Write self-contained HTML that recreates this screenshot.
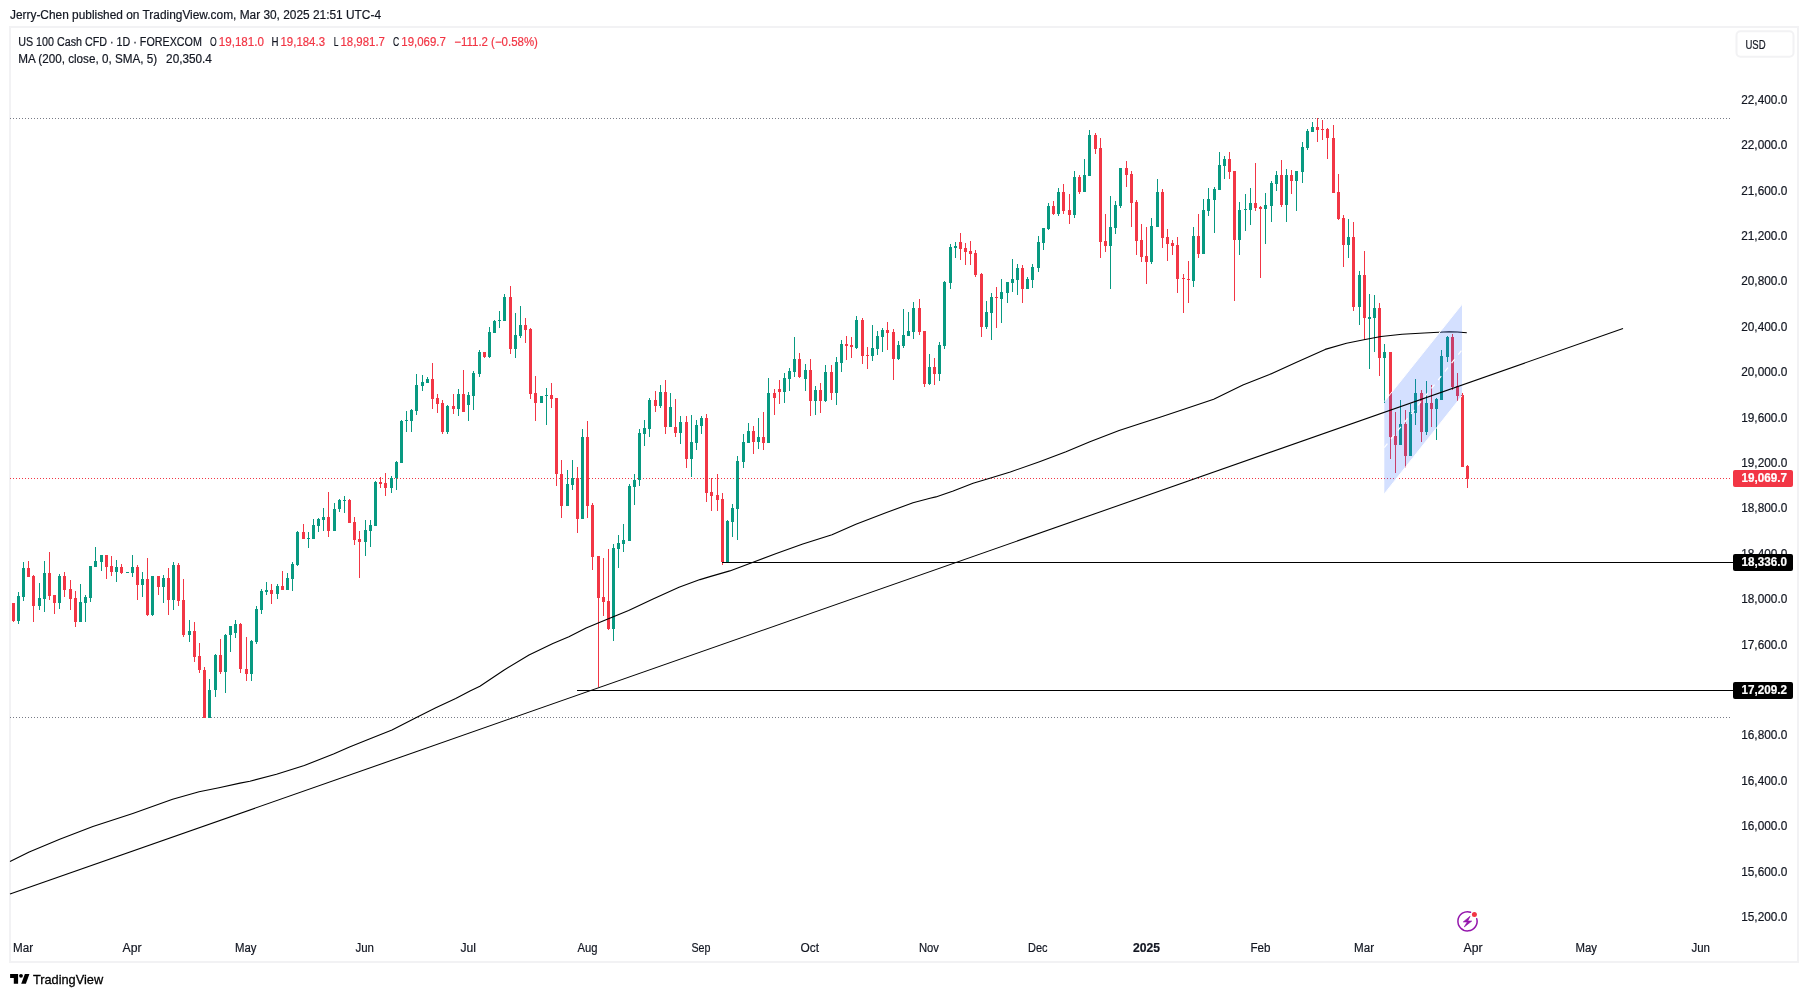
<!DOCTYPE html>
<html><head><meta charset="utf-8"><title>US 100 Cash CFD</title>
<style>
html,body{margin:0;padding:0;background:#fff;}
svg{display:block;font-family:"Liberation Sans",sans-serif;will-change:transform;-webkit-font-smoothing:antialiased;}
</style></head>
<body>
<svg width="1808" height="997" viewBox="0 0 1808 997">
<rect x="0" y="0" width="1808" height="997" fill="#ffffff"/>
<rect x="10" y="27" width="1788" height="935" fill="none" stroke="#f2f2f4" stroke-width="2"/>
<rect x="1736.5" y="31.3" width="57" height="25.4" rx="4" fill="#fff" stroke="#f2f2f4" stroke-width="2"/>
<g shape-rendering="crispEdges">
<line x1="10" y1="118.5" x2="1730" y2="118.5" stroke="#787b86" stroke-width="1" stroke-dasharray="1 2"/>
<line x1="10" y1="717.5" x2="1730" y2="717.5" stroke="#787b86" stroke-width="1" stroke-dasharray="1 2"/>
<line x1="10" y1="478.5" x2="1730" y2="478.5" stroke="#f23645" stroke-width="1" stroke-dasharray="1 2"/>
</g>
<g shape-rendering="crispEdges">
<rect x="13" y="603" width="1" height="19" fill="#f23645"/>
<rect x="12" y="603" width="3" height="18" fill="#f23645"/>
<rect x="18" y="592" width="1" height="32" fill="#089981"/>
<rect x="17" y="596" width="3" height="25" fill="#089981"/>
<rect x="23" y="562" width="1" height="39" fill="#089981"/>
<rect x="22" y="568" width="3" height="29" fill="#089981"/>
<rect x="28" y="561" width="1" height="16" fill="#f23645"/>
<rect x="27" y="568" width="3" height="9" fill="#f23645"/>
<rect x="33" y="575" width="1" height="47" fill="#f23645"/>
<rect x="32" y="576" width="3" height="30" fill="#f23645"/>
<rect x="39" y="583" width="1" height="27" fill="#089981"/>
<rect x="38" y="598" width="3" height="8" fill="#089981"/>
<rect x="44" y="561" width="1" height="51" fill="#089981"/>
<rect x="43" y="573" width="3" height="26" fill="#089981"/>
<rect x="49" y="552" width="1" height="48" fill="#f23645"/>
<rect x="48" y="573" width="3" height="23" fill="#f23645"/>
<rect x="54" y="595" width="1" height="19" fill="#f23645"/>
<rect x="53" y="595" width="3" height="8" fill="#f23645"/>
<rect x="59" y="574" width="1" height="35" fill="#089981"/>
<rect x="58" y="576" width="3" height="27" fill="#089981"/>
<rect x="64" y="572" width="1" height="25" fill="#f23645"/>
<rect x="63" y="576" width="3" height="14" fill="#f23645"/>
<rect x="70" y="580" width="1" height="30" fill="#f23645"/>
<rect x="69" y="589" width="3" height="10" fill="#f23645"/>
<rect x="75" y="591" width="1" height="36" fill="#f23645"/>
<rect x="74" y="598" width="3" height="24" fill="#f23645"/>
<rect x="80" y="584" width="1" height="38" fill="#089981"/>
<rect x="79" y="602" width="3" height="20" fill="#089981"/>
<rect x="85" y="595" width="1" height="27" fill="#089981"/>
<rect x="84" y="597" width="3" height="6" fill="#089981"/>
<rect x="90" y="566" width="1" height="36" fill="#089981"/>
<rect x="89" y="566" width="3" height="32" fill="#089981"/>
<rect x="95" y="547" width="1" height="20" fill="#089981"/>
<rect x="94" y="561" width="3" height="6" fill="#089981"/>
<rect x="101" y="555" width="1" height="16" fill="#089981"/>
<rect x="100" y="555" width="3" height="7" fill="#089981"/>
<rect x="106" y="555" width="1" height="24" fill="#f23645"/>
<rect x="105" y="555" width="3" height="12" fill="#f23645"/>
<rect x="111" y="556" width="1" height="20" fill="#f23645"/>
<rect x="110" y="566" width="3" height="6" fill="#f23645"/>
<rect x="116" y="560" width="1" height="22" fill="#089981"/>
<rect x="115" y="567" width="3" height="5" fill="#089981"/>
<rect x="121" y="564" width="1" height="10" fill="#f23645"/>
<rect x="120" y="567" width="3" height="6" fill="#f23645"/>
<rect x="127" y="572" width="1" height="1" fill="#089981"/>
<rect x="126" y="572" width="3" height="1" fill="#089981"/>
<rect x="132" y="555" width="1" height="22" fill="#089981"/>
<rect x="131" y="567" width="3" height="6" fill="#089981"/>
<rect x="137" y="565" width="1" height="35" fill="#f23645"/>
<rect x="136" y="567" width="3" height="18" fill="#f23645"/>
<rect x="142" y="572" width="1" height="25" fill="#089981"/>
<rect x="141" y="579" width="3" height="6" fill="#089981"/>
<rect x="147" y="558" width="1" height="58" fill="#f23645"/>
<rect x="146" y="579" width="3" height="36" fill="#f23645"/>
<rect x="152" y="576" width="1" height="40" fill="#089981"/>
<rect x="151" y="576" width="3" height="39" fill="#089981"/>
<rect x="158" y="576" width="1" height="19" fill="#f23645"/>
<rect x="157" y="576" width="3" height="11" fill="#f23645"/>
<rect x="163" y="575" width="1" height="28" fill="#089981"/>
<rect x="162" y="578" width="3" height="9" fill="#089981"/>
<rect x="168" y="568" width="1" height="47" fill="#f23645"/>
<rect x="167" y="578" width="3" height="22" fill="#f23645"/>
<rect x="173" y="562" width="1" height="48" fill="#089981"/>
<rect x="172" y="565" width="3" height="35" fill="#089981"/>
<rect x="178" y="563" width="1" height="43" fill="#f23645"/>
<rect x="177" y="565" width="3" height="36" fill="#f23645"/>
<rect x="183" y="579" width="1" height="58" fill="#f23645"/>
<rect x="182" y="600" width="3" height="35" fill="#f23645"/>
<rect x="189" y="620" width="1" height="22" fill="#089981"/>
<rect x="188" y="631" width="3" height="4" fill="#089981"/>
<rect x="194" y="622" width="1" height="40" fill="#f23645"/>
<rect x="193" y="631" width="3" height="26" fill="#f23645"/>
<rect x="199" y="643" width="1" height="30" fill="#f23645"/>
<rect x="198" y="656" width="3" height="14" fill="#f23645"/>
<rect x="204" y="667" width="1" height="51" fill="#f23645"/>
<rect x="203" y="670" width="3" height="48" fill="#f23645"/>
<rect x="209" y="679" width="1" height="39" fill="#089981"/>
<rect x="208" y="690" width="3" height="28" fill="#089981"/>
<rect x="215" y="654" width="1" height="43" fill="#089981"/>
<rect x="214" y="655" width="3" height="35" fill="#089981"/>
<rect x="220" y="639" width="1" height="35" fill="#f23645"/>
<rect x="219" y="655" width="3" height="17" fill="#f23645"/>
<rect x="225" y="634" width="1" height="59" fill="#089981"/>
<rect x="224" y="635" width="3" height="37" fill="#089981"/>
<rect x="230" y="626" width="1" height="26" fill="#089981"/>
<rect x="229" y="626" width="3" height="9" fill="#089981"/>
<rect x="235" y="620" width="1" height="18" fill="#089981"/>
<rect x="234" y="624" width="3" height="9" fill="#089981"/>
<rect x="240" y="623" width="1" height="50" fill="#f23645"/>
<rect x="239" y="624" width="3" height="45" fill="#f23645"/>
<rect x="246" y="637" width="1" height="44" fill="#f23645"/>
<rect x="245" y="669" width="3" height="5" fill="#f23645"/>
<rect x="251" y="640" width="1" height="41" fill="#089981"/>
<rect x="250" y="641" width="3" height="33" fill="#089981"/>
<rect x="256" y="606" width="1" height="38" fill="#089981"/>
<rect x="255" y="609" width="3" height="33" fill="#089981"/>
<rect x="261" y="589" width="1" height="25" fill="#089981"/>
<rect x="260" y="591" width="3" height="19" fill="#089981"/>
<rect x="266" y="582" width="1" height="13" fill="#089981"/>
<rect x="265" y="590" width="3" height="2" fill="#089981"/>
<rect x="271" y="584" width="1" height="20" fill="#f23645"/>
<rect x="270" y="590" width="3" height="4" fill="#f23645"/>
<rect x="277" y="584" width="1" height="15" fill="#089981"/>
<rect x="276" y="586" width="3" height="8" fill="#089981"/>
<rect x="282" y="571" width="1" height="19" fill="#f23645"/>
<rect x="281" y="586" width="3" height="4" fill="#f23645"/>
<rect x="287" y="573" width="1" height="17" fill="#089981"/>
<rect x="286" y="578" width="3" height="12" fill="#089981"/>
<rect x="292" y="562" width="1" height="29" fill="#089981"/>
<rect x="291" y="564" width="3" height="15" fill="#089981"/>
<rect x="297" y="531" width="1" height="35" fill="#089981"/>
<rect x="296" y="532" width="3" height="33" fill="#089981"/>
<rect x="303" y="524" width="1" height="15" fill="#f23645"/>
<rect x="302" y="532" width="3" height="7" fill="#f23645"/>
<rect x="308" y="532" width="1" height="16" fill="#089981"/>
<rect x="307" y="538" width="3" height="1" fill="#089981"/>
<rect x="313" y="519" width="1" height="20" fill="#089981"/>
<rect x="312" y="525" width="3" height="14" fill="#089981"/>
<rect x="318" y="518" width="1" height="14" fill="#089981"/>
<rect x="317" y="519" width="3" height="7" fill="#089981"/>
<rect x="323" y="508" width="1" height="23" fill="#089981"/>
<rect x="322" y="517" width="3" height="3" fill="#089981"/>
<rect x="328" y="492" width="1" height="45" fill="#f23645"/>
<rect x="327" y="517" width="3" height="14" fill="#f23645"/>
<rect x="334" y="503" width="1" height="28" fill="#089981"/>
<rect x="333" y="509" width="3" height="22" fill="#089981"/>
<rect x="339" y="499" width="1" height="13" fill="#089981"/>
<rect x="338" y="500" width="3" height="9" fill="#089981"/>
<rect x="344" y="496" width="1" height="17" fill="#089981"/>
<rect x="343" y="500" width="3" height="1" fill="#089981"/>
<rect x="349" y="499" width="1" height="24" fill="#f23645"/>
<rect x="348" y="500" width="3" height="23" fill="#f23645"/>
<rect x="354" y="517" width="1" height="28" fill="#f23645"/>
<rect x="353" y="522" width="3" height="18" fill="#f23645"/>
<rect x="359" y="531" width="1" height="47" fill="#f23645"/>
<rect x="358" y="539" width="3" height="3" fill="#f23645"/>
<rect x="365" y="520" width="1" height="36" fill="#089981"/>
<rect x="364" y="530" width="3" height="12" fill="#089981"/>
<rect x="370" y="520" width="1" height="27" fill="#089981"/>
<rect x="369" y="525" width="3" height="6" fill="#089981"/>
<rect x="375" y="481" width="1" height="45" fill="#089981"/>
<rect x="374" y="482" width="3" height="44" fill="#089981"/>
<rect x="380" y="477" width="1" height="11" fill="#f23645"/>
<rect x="379" y="482" width="3" height="2" fill="#f23645"/>
<rect x="385" y="473" width="1" height="23" fill="#f23645"/>
<rect x="384" y="483" width="3" height="5" fill="#f23645"/>
<rect x="391" y="476" width="1" height="17" fill="#089981"/>
<rect x="390" y="478" width="3" height="10" fill="#089981"/>
<rect x="396" y="461" width="1" height="29" fill="#089981"/>
<rect x="395" y="462" width="3" height="16" fill="#089981"/>
<rect x="401" y="420" width="1" height="43" fill="#089981"/>
<rect x="400" y="421" width="3" height="42" fill="#089981"/>
<rect x="406" y="411" width="1" height="21" fill="#089981"/>
<rect x="405" y="420" width="3" height="1" fill="#089981"/>
<rect x="411" y="409" width="1" height="23" fill="#089981"/>
<rect x="410" y="410" width="3" height="11" fill="#089981"/>
<rect x="416" y="374" width="1" height="41" fill="#089981"/>
<rect x="415" y="385" width="3" height="26" fill="#089981"/>
<rect x="422" y="375" width="1" height="16" fill="#089981"/>
<rect x="421" y="382" width="3" height="4" fill="#089981"/>
<rect x="427" y="377" width="1" height="6" fill="#089981"/>
<rect x="426" y="379" width="3" height="4" fill="#089981"/>
<rect x="432" y="363" width="1" height="46" fill="#f23645"/>
<rect x="431" y="379" width="3" height="20" fill="#f23645"/>
<rect x="437" y="394" width="1" height="19" fill="#f23645"/>
<rect x="436" y="398" width="3" height="6" fill="#f23645"/>
<rect x="442" y="400" width="1" height="34" fill="#f23645"/>
<rect x="441" y="403" width="3" height="29" fill="#f23645"/>
<rect x="447" y="405" width="1" height="29" fill="#089981"/>
<rect x="446" y="406" width="3" height="26" fill="#089981"/>
<rect x="453" y="394" width="1" height="20" fill="#f23645"/>
<rect x="452" y="406" width="3" height="3" fill="#f23645"/>
<rect x="458" y="389" width="1" height="27" fill="#089981"/>
<rect x="457" y="394" width="3" height="15" fill="#089981"/>
<rect x="463" y="370" width="1" height="42" fill="#f23645"/>
<rect x="462" y="394" width="3" height="18" fill="#f23645"/>
<rect x="468" y="392" width="1" height="29" fill="#089981"/>
<rect x="467" y="395" width="3" height="10" fill="#089981"/>
<rect x="473" y="371" width="1" height="39" fill="#089981"/>
<rect x="472" y="373" width="3" height="23" fill="#089981"/>
<rect x="479" y="350" width="1" height="27" fill="#089981"/>
<rect x="478" y="352" width="3" height="22" fill="#089981"/>
<rect x="484" y="352" width="1" height="6" fill="#f23645"/>
<rect x="483" y="352" width="3" height="5" fill="#f23645"/>
<rect x="489" y="327" width="1" height="31" fill="#089981"/>
<rect x="488" y="332" width="3" height="25" fill="#089981"/>
<rect x="494" y="320" width="1" height="13" fill="#089981"/>
<rect x="493" y="321" width="3" height="12" fill="#089981"/>
<rect x="499" y="311" width="1" height="17" fill="#089981"/>
<rect x="498" y="320" width="3" height="1" fill="#089981"/>
<rect x="504" y="294" width="1" height="27" fill="#089981"/>
<rect x="503" y="297" width="3" height="24" fill="#089981"/>
<rect x="510" y="286" width="1" height="68" fill="#f23645"/>
<rect x="509" y="297" width="3" height="52" fill="#f23645"/>
<rect x="515" y="313" width="1" height="45" fill="#089981"/>
<rect x="514" y="335" width="3" height="14" fill="#089981"/>
<rect x="520" y="306" width="1" height="32" fill="#089981"/>
<rect x="519" y="325" width="3" height="11" fill="#089981"/>
<rect x="525" y="318" width="1" height="25" fill="#f23645"/>
<rect x="524" y="325" width="3" height="5" fill="#f23645"/>
<rect x="530" y="328" width="1" height="71" fill="#f23645"/>
<rect x="529" y="329" width="3" height="65" fill="#f23645"/>
<rect x="535" y="376" width="1" height="45" fill="#f23645"/>
<rect x="534" y="393" width="3" height="10" fill="#f23645"/>
<rect x="541" y="396" width="1" height="7" fill="#089981"/>
<rect x="540" y="396" width="3" height="7" fill="#089981"/>
<rect x="546" y="388" width="1" height="37" fill="#089981"/>
<rect x="545" y="395" width="3" height="1" fill="#089981"/>
<rect x="551" y="383" width="1" height="25" fill="#f23645"/>
<rect x="550" y="395" width="3" height="4" fill="#f23645"/>
<rect x="556" y="398" width="1" height="88" fill="#f23645"/>
<rect x="555" y="398" width="3" height="76" fill="#f23645"/>
<rect x="561" y="460" width="1" height="58" fill="#f23645"/>
<rect x="560" y="474" width="3" height="32" fill="#f23645"/>
<rect x="567" y="470" width="1" height="36" fill="#089981"/>
<rect x="566" y="484" width="3" height="22" fill="#089981"/>
<rect x="572" y="460" width="1" height="30" fill="#089981"/>
<rect x="571" y="478" width="3" height="7" fill="#089981"/>
<rect x="577" y="467" width="1" height="66" fill="#f23645"/>
<rect x="576" y="478" width="3" height="41" fill="#f23645"/>
<rect x="582" y="429" width="1" height="90" fill="#089981"/>
<rect x="581" y="437" width="3" height="82" fill="#089981"/>
<rect x="587" y="421" width="1" height="97" fill="#f23645"/>
<rect x="586" y="437" width="3" height="69" fill="#f23645"/>
<rect x="592" y="503" width="1" height="67" fill="#f23645"/>
<rect x="591" y="505" width="3" height="52" fill="#f23645"/>
<rect x="598" y="556" width="1" height="131" fill="#f23645"/>
<rect x="597" y="556" width="3" height="42" fill="#f23645"/>
<rect x="603" y="558" width="1" height="58" fill="#f23645"/>
<rect x="602" y="597" width="3" height="5" fill="#f23645"/>
<rect x="608" y="549" width="1" height="81" fill="#f23645"/>
<rect x="607" y="601" width="3" height="28" fill="#f23645"/>
<rect x="613" y="544" width="1" height="97" fill="#089981"/>
<rect x="612" y="548" width="3" height="81" fill="#089981"/>
<rect x="618" y="535" width="1" height="33" fill="#089981"/>
<rect x="617" y="543" width="3" height="6" fill="#089981"/>
<rect x="623" y="524" width="1" height="28" fill="#089981"/>
<rect x="622" y="540" width="3" height="4" fill="#089981"/>
<rect x="629" y="484" width="1" height="57" fill="#089981"/>
<rect x="628" y="486" width="3" height="55" fill="#089981"/>
<rect x="634" y="474" width="1" height="31" fill="#089981"/>
<rect x="633" y="480" width="3" height="7" fill="#089981"/>
<rect x="639" y="429" width="1" height="57" fill="#089981"/>
<rect x="638" y="433" width="3" height="47" fill="#089981"/>
<rect x="644" y="420" width="1" height="26" fill="#089981"/>
<rect x="643" y="428" width="3" height="6" fill="#089981"/>
<rect x="649" y="398" width="1" height="39" fill="#089981"/>
<rect x="648" y="400" width="3" height="29" fill="#089981"/>
<rect x="655" y="391" width="1" height="21" fill="#f23645"/>
<rect x="654" y="400" width="3" height="6" fill="#f23645"/>
<rect x="660" y="385" width="1" height="23" fill="#089981"/>
<rect x="659" y="392" width="3" height="14" fill="#089981"/>
<rect x="665" y="380" width="1" height="54" fill="#f23645"/>
<rect x="664" y="392" width="3" height="35" fill="#f23645"/>
<rect x="670" y="393" width="1" height="34" fill="#089981"/>
<rect x="669" y="407" width="3" height="20" fill="#089981"/>
<rect x="675" y="399" width="1" height="38" fill="#f23645"/>
<rect x="674" y="427" width="3" height="6" fill="#f23645"/>
<rect x="680" y="416" width="1" height="28" fill="#089981"/>
<rect x="679" y="422" width="3" height="11" fill="#089981"/>
<rect x="686" y="416" width="1" height="52" fill="#f23645"/>
<rect x="685" y="422" width="3" height="37" fill="#f23645"/>
<rect x="691" y="415" width="1" height="62" fill="#089981"/>
<rect x="690" y="442" width="3" height="17" fill="#089981"/>
<rect x="696" y="420" width="1" height="30" fill="#089981"/>
<rect x="695" y="425" width="3" height="18" fill="#089981"/>
<rect x="701" y="416" width="1" height="18" fill="#089981"/>
<rect x="700" y="418" width="3" height="8" fill="#089981"/>
<rect x="706" y="414" width="1" height="88" fill="#f23645"/>
<rect x="705" y="418" width="3" height="75" fill="#f23645"/>
<rect x="711" y="478" width="1" height="33" fill="#f23645"/>
<rect x="710" y="492" width="3" height="4" fill="#f23645"/>
<rect x="717" y="474" width="1" height="37" fill="#f23645"/>
<rect x="716" y="495" width="3" height="5" fill="#f23645"/>
<rect x="722" y="493" width="1" height="72" fill="#f23645"/>
<rect x="721" y="499" width="3" height="63" fill="#f23645"/>
<rect x="727" y="520" width="1" height="42" fill="#089981"/>
<rect x="726" y="521" width="3" height="41" fill="#089981"/>
<rect x="732" y="504" width="1" height="33" fill="#089981"/>
<rect x="731" y="508" width="3" height="14" fill="#089981"/>
<rect x="737" y="456" width="1" height="84" fill="#089981"/>
<rect x="736" y="461" width="3" height="48" fill="#089981"/>
<rect x="743" y="434" width="1" height="34" fill="#089981"/>
<rect x="742" y="442" width="3" height="20" fill="#089981"/>
<rect x="748" y="423" width="1" height="20" fill="#089981"/>
<rect x="747" y="431" width="3" height="12" fill="#089981"/>
<rect x="753" y="426" width="1" height="28" fill="#f23645"/>
<rect x="752" y="431" width="3" height="11" fill="#f23645"/>
<rect x="758" y="418" width="1" height="31" fill="#089981"/>
<rect x="757" y="437" width="3" height="5" fill="#089981"/>
<rect x="763" y="412" width="1" height="38" fill="#f23645"/>
<rect x="762" y="437" width="3" height="6" fill="#f23645"/>
<rect x="768" y="378" width="1" height="65" fill="#089981"/>
<rect x="767" y="393" width="3" height="50" fill="#089981"/>
<rect x="774" y="389" width="1" height="26" fill="#f23645"/>
<rect x="773" y="393" width="3" height="5" fill="#f23645"/>
<rect x="779" y="380" width="1" height="24" fill="#f23645"/>
<rect x="778" y="389" width="3" height="3" fill="#f23645"/>
<rect x="784" y="373" width="1" height="30" fill="#089981"/>
<rect x="783" y="378" width="3" height="14" fill="#089981"/>
<rect x="789" y="368" width="1" height="23" fill="#089981"/>
<rect x="788" y="371" width="3" height="8" fill="#089981"/>
<rect x="794" y="337" width="1" height="40" fill="#089981"/>
<rect x="793" y="359" width="3" height="13" fill="#089981"/>
<rect x="799" y="353" width="1" height="25" fill="#f23645"/>
<rect x="798" y="359" width="3" height="18" fill="#f23645"/>
<rect x="805" y="364" width="1" height="27" fill="#089981"/>
<rect x="804" y="370" width="3" height="9" fill="#089981"/>
<rect x="810" y="359" width="1" height="57" fill="#f23645"/>
<rect x="809" y="370" width="3" height="31" fill="#f23645"/>
<rect x="815" y="386" width="1" height="29" fill="#089981"/>
<rect x="814" y="390" width="3" height="11" fill="#089981"/>
<rect x="820" y="383" width="1" height="30" fill="#f23645"/>
<rect x="819" y="390" width="3" height="11" fill="#f23645"/>
<rect x="825" y="365" width="1" height="37" fill="#089981"/>
<rect x="824" y="372" width="3" height="29" fill="#089981"/>
<rect x="831" y="365" width="1" height="35" fill="#f23645"/>
<rect x="830" y="372" width="3" height="21" fill="#f23645"/>
<rect x="836" y="357" width="1" height="48" fill="#089981"/>
<rect x="835" y="362" width="3" height="31" fill="#089981"/>
<rect x="841" y="340" width="1" height="32" fill="#089981"/>
<rect x="840" y="344" width="3" height="19" fill="#089981"/>
<rect x="846" y="336" width="1" height="24" fill="#f23645"/>
<rect x="845" y="344" width="3" height="2" fill="#f23645"/>
<rect x="851" y="337" width="1" height="21" fill="#f23645"/>
<rect x="850" y="345" width="3" height="2" fill="#f23645"/>
<rect x="856" y="316" width="1" height="33" fill="#089981"/>
<rect x="855" y="320" width="3" height="28" fill="#089981"/>
<rect x="862" y="318" width="1" height="46" fill="#f23645"/>
<rect x="861" y="320" width="3" height="36" fill="#f23645"/>
<rect x="867" y="347" width="1" height="22" fill="#f23645"/>
<rect x="866" y="355" width="3" height="1" fill="#f23645"/>
<rect x="872" y="325" width="1" height="36" fill="#089981"/>
<rect x="871" y="348" width="3" height="8" fill="#089981"/>
<rect x="877" y="331" width="1" height="24" fill="#089981"/>
<rect x="876" y="336" width="3" height="13" fill="#089981"/>
<rect x="882" y="328" width="1" height="24" fill="#089981"/>
<rect x="881" y="330" width="3" height="7" fill="#089981"/>
<rect x="887" y="322" width="1" height="28" fill="#f23645"/>
<rect x="886" y="330" width="3" height="3" fill="#f23645"/>
<rect x="893" y="329" width="1" height="51" fill="#f23645"/>
<rect x="892" y="332" width="3" height="27" fill="#f23645"/>
<rect x="898" y="341" width="1" height="19" fill="#089981"/>
<rect x="897" y="345" width="3" height="14" fill="#089981"/>
<rect x="903" y="309" width="1" height="39" fill="#089981"/>
<rect x="902" y="335" width="3" height="11" fill="#089981"/>
<rect x="908" y="312" width="1" height="24" fill="#089981"/>
<rect x="907" y="331" width="3" height="5" fill="#089981"/>
<rect x="913" y="302" width="1" height="37" fill="#089981"/>
<rect x="912" y="308" width="3" height="24" fill="#089981"/>
<rect x="919" y="299" width="1" height="36" fill="#f23645"/>
<rect x="918" y="308" width="3" height="24" fill="#f23645"/>
<rect x="924" y="331" width="1" height="56" fill="#f23645"/>
<rect x="923" y="331" width="3" height="53" fill="#f23645"/>
<rect x="929" y="354" width="1" height="31" fill="#089981"/>
<rect x="928" y="367" width="3" height="17" fill="#089981"/>
<rect x="934" y="358" width="1" height="27" fill="#f23645"/>
<rect x="933" y="367" width="3" height="7" fill="#f23645"/>
<rect x="939" y="342" width="1" height="39" fill="#089981"/>
<rect x="938" y="345" width="3" height="29" fill="#089981"/>
<rect x="944" y="281" width="1" height="68" fill="#089981"/>
<rect x="943" y="282" width="3" height="64" fill="#089981"/>
<rect x="950" y="244" width="1" height="45" fill="#089981"/>
<rect x="949" y="247" width="3" height="36" fill="#089981"/>
<rect x="955" y="242" width="1" height="16" fill="#089981"/>
<rect x="954" y="246" width="3" height="2" fill="#089981"/>
<rect x="960" y="233" width="1" height="27" fill="#f23645"/>
<rect x="959" y="242" width="3" height="7" fill="#f23645"/>
<rect x="965" y="243" width="1" height="22" fill="#f23645"/>
<rect x="964" y="248" width="3" height="4" fill="#f23645"/>
<rect x="970" y="241" width="1" height="24" fill="#f23645"/>
<rect x="969" y="251" width="3" height="3" fill="#f23645"/>
<rect x="975" y="250" width="1" height="27" fill="#f23645"/>
<rect x="974" y="253" width="3" height="22" fill="#f23645"/>
<rect x="981" y="273" width="1" height="64" fill="#f23645"/>
<rect x="980" y="274" width="3" height="53" fill="#f23645"/>
<rect x="986" y="301" width="1" height="28" fill="#089981"/>
<rect x="985" y="312" width="3" height="15" fill="#089981"/>
<rect x="991" y="293" width="1" height="47" fill="#089981"/>
<rect x="990" y="297" width="3" height="16" fill="#089981"/>
<rect x="996" y="287" width="1" height="41" fill="#f23645"/>
<rect x="995" y="297" width="3" height="1" fill="#f23645"/>
<rect x="1001" y="279" width="1" height="44" fill="#089981"/>
<rect x="1000" y="292" width="3" height="7" fill="#089981"/>
<rect x="1007" y="282" width="1" height="21" fill="#089981"/>
<rect x="1006" y="282" width="3" height="11" fill="#089981"/>
<rect x="1012" y="259" width="1" height="33" fill="#089981"/>
<rect x="1011" y="279" width="3" height="4" fill="#089981"/>
<rect x="1017" y="264" width="1" height="31" fill="#089981"/>
<rect x="1016" y="268" width="3" height="12" fill="#089981"/>
<rect x="1022" y="265" width="1" height="38" fill="#f23645"/>
<rect x="1021" y="268" width="3" height="21" fill="#f23645"/>
<rect x="1027" y="277" width="1" height="12" fill="#089981"/>
<rect x="1026" y="279" width="3" height="10" fill="#089981"/>
<rect x="1032" y="264" width="1" height="24" fill="#089981"/>
<rect x="1031" y="267" width="3" height="13" fill="#089981"/>
<rect x="1038" y="236" width="1" height="36" fill="#089981"/>
<rect x="1037" y="242" width="3" height="26" fill="#089981"/>
<rect x="1043" y="228" width="1" height="22" fill="#089981"/>
<rect x="1042" y="228" width="3" height="15" fill="#089981"/>
<rect x="1048" y="203" width="1" height="27" fill="#089981"/>
<rect x="1047" y="206" width="3" height="23" fill="#089981"/>
<rect x="1053" y="201" width="1" height="14" fill="#f23645"/>
<rect x="1052" y="206" width="3" height="8" fill="#f23645"/>
<rect x="1058" y="188" width="1" height="28" fill="#089981"/>
<rect x="1057" y="192" width="3" height="22" fill="#089981"/>
<rect x="1063" y="184" width="1" height="30" fill="#f23645"/>
<rect x="1062" y="192" width="3" height="19" fill="#f23645"/>
<rect x="1069" y="194" width="1" height="30" fill="#f23645"/>
<rect x="1068" y="210" width="3" height="5" fill="#f23645"/>
<rect x="1074" y="171" width="1" height="47" fill="#089981"/>
<rect x="1073" y="177" width="3" height="38" fill="#089981"/>
<rect x="1079" y="175" width="1" height="19" fill="#f23645"/>
<rect x="1078" y="177" width="3" height="15" fill="#f23645"/>
<rect x="1084" y="159" width="1" height="33" fill="#089981"/>
<rect x="1083" y="175" width="3" height="17" fill="#089981"/>
<rect x="1089" y="130" width="1" height="46" fill="#089981"/>
<rect x="1088" y="135" width="3" height="41" fill="#089981"/>
<rect x="1095" y="133" width="1" height="21" fill="#f23645"/>
<rect x="1094" y="135" width="3" height="14" fill="#f23645"/>
<rect x="1100" y="138" width="1" height="120" fill="#f23645"/>
<rect x="1099" y="148" width="3" height="94" fill="#f23645"/>
<rect x="1105" y="214" width="1" height="38" fill="#f23645"/>
<rect x="1104" y="241" width="3" height="5" fill="#f23645"/>
<rect x="1110" y="196" width="1" height="93" fill="#089981"/>
<rect x="1109" y="227" width="3" height="19" fill="#089981"/>
<rect x="1115" y="201" width="1" height="33" fill="#089981"/>
<rect x="1114" y="205" width="3" height="23" fill="#089981"/>
<rect x="1120" y="168" width="1" height="40" fill="#089981"/>
<rect x="1119" y="168" width="3" height="38" fill="#089981"/>
<rect x="1126" y="161" width="1" height="26" fill="#f23645"/>
<rect x="1125" y="168" width="3" height="7" fill="#f23645"/>
<rect x="1131" y="171" width="1" height="56" fill="#f23645"/>
<rect x="1130" y="174" width="3" height="29" fill="#f23645"/>
<rect x="1136" y="200" width="1" height="55" fill="#f23645"/>
<rect x="1135" y="202" width="3" height="39" fill="#f23645"/>
<rect x="1141" y="224" width="1" height="38" fill="#f23645"/>
<rect x="1140" y="240" width="3" height="17" fill="#f23645"/>
<rect x="1146" y="227" width="1" height="57" fill="#f23645"/>
<rect x="1145" y="256" width="3" height="6" fill="#f23645"/>
<rect x="1151" y="218" width="1" height="46" fill="#089981"/>
<rect x="1150" y="226" width="3" height="36" fill="#089981"/>
<rect x="1157" y="179" width="1" height="48" fill="#089981"/>
<rect x="1156" y="192" width="3" height="35" fill="#089981"/>
<rect x="1162" y="189" width="1" height="59" fill="#f23645"/>
<rect x="1161" y="192" width="3" height="46" fill="#f23645"/>
<rect x="1167" y="229" width="1" height="32" fill="#f23645"/>
<rect x="1166" y="237" width="3" height="7" fill="#f23645"/>
<rect x="1172" y="240" width="1" height="15" fill="#f23645"/>
<rect x="1171" y="243" width="3" height="3" fill="#f23645"/>
<rect x="1177" y="237" width="1" height="56" fill="#f23645"/>
<rect x="1176" y="245" width="3" height="34" fill="#f23645"/>
<rect x="1183" y="274" width="1" height="39" fill="#f23645"/>
<rect x="1182" y="278" width="3" height="1" fill="#f23645"/>
<rect x="1188" y="261" width="1" height="42" fill="#f23645"/>
<rect x="1187" y="279" width="3" height="1" fill="#f23645"/>
<rect x="1193" y="227" width="1" height="60" fill="#089981"/>
<rect x="1192" y="236" width="3" height="45" fill="#089981"/>
<rect x="1198" y="214" width="1" height="44" fill="#f23645"/>
<rect x="1197" y="236" width="3" height="18" fill="#f23645"/>
<rect x="1203" y="199" width="1" height="55" fill="#089981"/>
<rect x="1202" y="210" width="3" height="44" fill="#089981"/>
<rect x="1208" y="188" width="1" height="28" fill="#089981"/>
<rect x="1207" y="199" width="3" height="12" fill="#089981"/>
<rect x="1214" y="187" width="1" height="46" fill="#089981"/>
<rect x="1213" y="189" width="3" height="11" fill="#089981"/>
<rect x="1219" y="152" width="1" height="38" fill="#089981"/>
<rect x="1218" y="165" width="3" height="25" fill="#089981"/>
<rect x="1224" y="156" width="1" height="23" fill="#089981"/>
<rect x="1223" y="159" width="3" height="7" fill="#089981"/>
<rect x="1229" y="152" width="1" height="27" fill="#f23645"/>
<rect x="1228" y="159" width="3" height="13" fill="#f23645"/>
<rect x="1234" y="171" width="1" height="130" fill="#f23645"/>
<rect x="1233" y="171" width="3" height="69" fill="#f23645"/>
<rect x="1239" y="202" width="1" height="53" fill="#089981"/>
<rect x="1238" y="210" width="3" height="30" fill="#089981"/>
<rect x="1245" y="194" width="1" height="37" fill="#089981"/>
<rect x="1244" y="209" width="3" height="1" fill="#089981"/>
<rect x="1250" y="188" width="1" height="37" fill="#089981"/>
<rect x="1249" y="203" width="3" height="7" fill="#089981"/>
<rect x="1255" y="163" width="1" height="48" fill="#f23645"/>
<rect x="1254" y="203" width="3" height="5" fill="#f23645"/>
<rect x="1260" y="206" width="1" height="72" fill="#f23645"/>
<rect x="1259" y="207" width="3" height="2" fill="#f23645"/>
<rect x="1265" y="193" width="1" height="51" fill="#089981"/>
<rect x="1264" y="205" width="3" height="4" fill="#089981"/>
<rect x="1271" y="181" width="1" height="41" fill="#089981"/>
<rect x="1270" y="183" width="3" height="23" fill="#089981"/>
<rect x="1276" y="171" width="1" height="20" fill="#089981"/>
<rect x="1275" y="175" width="3" height="9" fill="#089981"/>
<rect x="1281" y="160" width="1" height="47" fill="#f23645"/>
<rect x="1280" y="175" width="3" height="30" fill="#f23645"/>
<rect x="1286" y="169" width="1" height="53" fill="#089981"/>
<rect x="1285" y="175" width="3" height="30" fill="#089981"/>
<rect x="1291" y="170" width="1" height="24" fill="#f23645"/>
<rect x="1290" y="175" width="3" height="6" fill="#f23645"/>
<rect x="1296" y="171" width="1" height="40" fill="#089981"/>
<rect x="1295" y="171" width="3" height="10" fill="#089981"/>
<rect x="1302" y="142" width="1" height="41" fill="#089981"/>
<rect x="1301" y="147" width="3" height="25" fill="#089981"/>
<rect x="1307" y="129" width="1" height="21" fill="#089981"/>
<rect x="1306" y="131" width="3" height="17" fill="#089981"/>
<rect x="1312" y="122" width="1" height="10" fill="#089981"/>
<rect x="1311" y="127" width="3" height="5" fill="#089981"/>
<rect x="1317" y="118" width="1" height="24" fill="#f23645"/>
<rect x="1316" y="127" width="3" height="3" fill="#f23645"/>
<rect x="1322" y="120" width="1" height="20" fill="#f23645"/>
<rect x="1321" y="129" width="3" height="1" fill="#f23645"/>
<rect x="1327" y="128" width="1" height="31" fill="#f23645"/>
<rect x="1326" y="129" width="3" height="9" fill="#f23645"/>
<rect x="1333" y="125" width="1" height="68" fill="#f23645"/>
<rect x="1332" y="138" width="3" height="55" fill="#f23645"/>
<rect x="1338" y="174" width="1" height="46" fill="#f23645"/>
<rect x="1337" y="192" width="3" height="27" fill="#f23645"/>
<rect x="1343" y="215" width="1" height="52" fill="#f23645"/>
<rect x="1342" y="218" width="3" height="27" fill="#f23645"/>
<rect x="1348" y="219" width="1" height="39" fill="#089981"/>
<rect x="1347" y="237" width="3" height="8" fill="#089981"/>
<rect x="1353" y="222" width="1" height="89" fill="#f23645"/>
<rect x="1352" y="237" width="3" height="70" fill="#f23645"/>
<rect x="1359" y="271" width="1" height="54" fill="#089981"/>
<rect x="1358" y="275" width="3" height="32" fill="#089981"/>
<rect x="1364" y="251" width="1" height="89" fill="#f23645"/>
<rect x="1363" y="275" width="3" height="43" fill="#f23645"/>
<rect x="1369" y="294" width="1" height="75" fill="#089981"/>
<rect x="1368" y="317" width="3" height="2" fill="#089981"/>
<rect x="1374" y="295" width="1" height="57" fill="#089981"/>
<rect x="1373" y="308" width="3" height="10" fill="#089981"/>
<rect x="1379" y="303" width="1" height="73" fill="#f23645"/>
<rect x="1378" y="308" width="3" height="50" fill="#f23645"/>
<rect x="1384" y="344" width="1" height="59" fill="#089981"/>
<rect x="1383" y="352" width="3" height="6" fill="#089981"/>
<rect x="1390" y="352" width="1" height="107" fill="#f23645"/>
<rect x="1389" y="352" width="3" height="85" fill="#f23645"/>
<rect x="1395" y="412" width="1" height="61" fill="#f23645"/>
<rect x="1394" y="436" width="3" height="9" fill="#f23645"/>
<rect x="1400" y="400" width="1" height="45" fill="#089981"/>
<rect x="1399" y="424" width="3" height="21" fill="#089981"/>
<rect x="1405" y="410" width="1" height="58" fill="#f23645"/>
<rect x="1404" y="424" width="3" height="32" fill="#f23645"/>
<rect x="1410" y="404" width="1" height="52" fill="#089981"/>
<rect x="1409" y="412" width="3" height="44" fill="#089981"/>
<rect x="1415" y="379" width="1" height="46" fill="#089981"/>
<rect x="1414" y="393" width="3" height="20" fill="#089981"/>
<rect x="1421" y="390" width="1" height="52" fill="#f23645"/>
<rect x="1420" y="393" width="3" height="39" fill="#f23645"/>
<rect x="1426" y="381" width="1" height="54" fill="#089981"/>
<rect x="1425" y="403" width="3" height="29" fill="#089981"/>
<rect x="1431" y="385" width="1" height="42" fill="#f23645"/>
<rect x="1430" y="403" width="3" height="6" fill="#f23645"/>
<rect x="1436" y="398" width="1" height="42" fill="#089981"/>
<rect x="1435" y="399" width="3" height="10" fill="#089981"/>
<rect x="1441" y="350" width="1" height="50" fill="#089981"/>
<rect x="1440" y="356" width="3" height="44" fill="#089981"/>
<rect x="1447" y="336" width="1" height="26" fill="#089981"/>
<rect x="1446" y="337" width="3" height="20" fill="#089981"/>
<rect x="1452" y="334" width="1" height="56" fill="#f23645"/>
<rect x="1451" y="337" width="3" height="50" fill="#f23645"/>
<rect x="1457" y="373" width="1" height="28" fill="#f23645"/>
<rect x="1456" y="386" width="3" height="10" fill="#f23645"/>
<rect x="1462" y="393" width="1" height="74" fill="#f23645"/>
<rect x="1461" y="395" width="3" height="72" fill="#f23645"/>
<rect x="1467" y="465" width="1" height="23" fill="#f23645"/>
<rect x="1466" y="466" width="3" height="13" fill="#f23645"/>
</g>
<path d="M10.0,861.6 L29.2,851.9 L59.7,839.3 L92.9,826.6 L132.8,813.4 L172.6,799.3 L199.1,791.8 L219.0,787.8 L240.0,783.1 L249.9,781.2 L276.5,774.2 L304.3,765.5 L333.5,754.0 L349.5,747.0 L369.4,739.0 L392.0,730.0 L415.9,717.7 L435.8,707.8 L455.7,698.5 L470.0,690.9 L479.9,686.2 L503.8,670.2 L529.0,655.0 L552.9,643.4 L568.9,636.8 L586.1,628.0 L606.0,619.8 L628.6,610.5 L652.5,599.2 L679.0,587.3 L700.0,579.6 L709.9,576.6 L729.8,570.9 L752.4,562.5 L776.3,553.6 L802.8,544.1 L832.0,534.8 L855.9,524.2 L886.5,512.5 L913.0,502.8 L930.0,498.3 L935.9,496.9 L953.2,490.9 L973.1,483.3 L989.0,478.5 L1010.3,472.0 L1039.5,461.7 L1066.0,451.7 L1089.9,441.8 L1119.1,430.5 L1139.0,423.9 L1160.0,417.2 L1183.2,409.6 L1213.7,399.2 L1242.9,385.0 L1269.5,374.6 L1296.0,362.4 L1325.2,349.4 L1346.5,343.2 L1365.1,339.5 L1381.1,336.5 L1402.1,334.3 L1424.2,333.0 L1438.6,332.3 L1449.1,331.7 L1457.4,332.0 L1466.8,332.8" fill="none" stroke="#000" stroke-width="1.1" stroke-linejoin="round"/>
<g shape-rendering="crispEdges">
<line x1="722" y1="562.5" x2="1733" y2="562.5" stroke="#000" stroke-width="1"/>
<line x1="577" y1="690.5" x2="1733" y2="690.5" stroke="#000" stroke-width="1"/>
</g>
<polygon points="1384.3,401.6 1462,304.3 1462,395.8 1384.3,493.9" fill="rgba(41,98,255,0.2)"/>
<line x1="1384.3" y1="447.6" x2="1462" y2="350" stroke="#fff" stroke-width="1.2" stroke-dasharray="5 5.8"/>
<line x1="1384.3" y1="401.6" x2="1462" y2="304.3" stroke="#fff" stroke-width="1"/>
<line x1="1384.3" y1="493.9" x2="1462" y2="395.8" stroke="#fff" stroke-width="1"/>
<line x1="10" y1="894.1" x2="1623" y2="328.6" stroke="#000" stroke-width="1.05"/>
<text x="10" y="19" fill="#131722" stroke="#131722" stroke-width="0.2" font-size="12" font-weight="normal" text-anchor="start" textLength="371" lengthAdjust="spacingAndGlyphs">Jerry-Chen published on TradingView.com, Mar 30, 2025 21:51 UTC-4</text>
<text x="18.2" y="45.8" fill="#131722" stroke="#131722" stroke-width="0.2" font-size="12" font-weight="normal" text-anchor="start" textLength="183.7" lengthAdjust="spacingAndGlyphs">US 100 Cash CFD · 1D · FOREXCOM</text>
<text x="210.1" y="45.8" fill="#131722" stroke="#131722" stroke-width="0.2" font-size="12" font-weight="normal" text-anchor="start" textLength="6.7" lengthAdjust="spacingAndGlyphs">O</text>
<text x="218.8" y="45.8" fill="#f23645" stroke="#f23645" stroke-width="0.2" font-size="12" font-weight="normal" text-anchor="start" textLength="45.1" lengthAdjust="spacingAndGlyphs">19,181.0</text>
<text x="271.5" y="45.8" fill="#131722" stroke="#131722" stroke-width="0.2" font-size="12" font-weight="normal" text-anchor="start" textLength="7" lengthAdjust="spacingAndGlyphs">H</text>
<text x="280.5" y="45.8" fill="#f23645" stroke="#f23645" stroke-width="0.2" font-size="12" font-weight="normal" text-anchor="start" textLength="44.5" lengthAdjust="spacingAndGlyphs">19,184.3</text>
<text x="333.8" y="45.8" fill="#131722" stroke="#131722" stroke-width="0.2" font-size="12" font-weight="normal" text-anchor="start" textLength="4.7" lengthAdjust="spacingAndGlyphs">L</text>
<text x="340.5" y="45.8" fill="#f23645" stroke="#f23645" stroke-width="0.2" font-size="12" font-weight="normal" text-anchor="start" textLength="44.4" lengthAdjust="spacingAndGlyphs">18,981.7</text>
<text x="393.1" y="45.8" fill="#131722" stroke="#131722" stroke-width="0.2" font-size="12" font-weight="normal" text-anchor="start" textLength="6.2" lengthAdjust="spacingAndGlyphs">C</text>
<text x="401.3" y="45.8" fill="#f23645" stroke="#f23645" stroke-width="0.2" font-size="12" font-weight="normal" text-anchor="start" textLength="44.5" lengthAdjust="spacingAndGlyphs">19,069.7</text>
<text x="454.3" y="45.8" fill="#f23645" stroke="#f23645" stroke-width="0.2" font-size="12" font-weight="normal" text-anchor="start" textLength="83.6" lengthAdjust="spacingAndGlyphs">−111.2 (−0.58%)</text>
<text x="18.2" y="62.6" fill="#131722" stroke="#131722" stroke-width="0.2" font-size="12" font-weight="normal" text-anchor="start" textLength="138.9" lengthAdjust="spacingAndGlyphs">MA (200, close, 0, SMA, 5)</text>
<text x="166.1" y="62.6" fill="#131722" stroke="#131722" stroke-width="0.2" font-size="12" font-weight="normal" text-anchor="start" textLength="45.8" lengthAdjust="spacingAndGlyphs">20,350.4</text>
<text x="1745.4" y="49" fill="#131722" stroke="#131722" stroke-width="0.2" font-size="12" font-weight="normal" text-anchor="start" textLength="20.2" lengthAdjust="spacingAndGlyphs">USD</text>
<text x="1741.2" y="103.7" fill="#131722" stroke="#131722" stroke-width="0.2" font-size="12" font-weight="normal" text-anchor="start" textLength="46.1" lengthAdjust="spacingAndGlyphs">22,400.0</text>
<text x="1741.2" y="148.7" fill="#131722" stroke="#131722" stroke-width="0.2" font-size="12" font-weight="normal" text-anchor="start" textLength="46.1" lengthAdjust="spacingAndGlyphs">22,000.0</text>
<text x="1741.2" y="194.7" fill="#131722" stroke="#131722" stroke-width="0.2" font-size="12" font-weight="normal" text-anchor="start" textLength="46.1" lengthAdjust="spacingAndGlyphs">21,600.0</text>
<text x="1741.2" y="239.7" fill="#131722" stroke="#131722" stroke-width="0.2" font-size="12" font-weight="normal" text-anchor="start" textLength="46.1" lengthAdjust="spacingAndGlyphs">21,200.0</text>
<text x="1741.2" y="284.7" fill="#131722" stroke="#131722" stroke-width="0.2" font-size="12" font-weight="normal" text-anchor="start" textLength="46.1" lengthAdjust="spacingAndGlyphs">20,800.0</text>
<text x="1741.2" y="330.7" fill="#131722" stroke="#131722" stroke-width="0.2" font-size="12" font-weight="normal" text-anchor="start" textLength="46.1" lengthAdjust="spacingAndGlyphs">20,400.0</text>
<text x="1741.2" y="375.7" fill="#131722" stroke="#131722" stroke-width="0.2" font-size="12" font-weight="normal" text-anchor="start" textLength="46.1" lengthAdjust="spacingAndGlyphs">20,000.0</text>
<text x="1741.2" y="421.7" fill="#131722" stroke="#131722" stroke-width="0.2" font-size="12" font-weight="normal" text-anchor="start" textLength="46.1" lengthAdjust="spacingAndGlyphs">19,600.0</text>
<text x="1741.2" y="466.7" fill="#131722" stroke="#131722" stroke-width="0.2" font-size="12" font-weight="normal" text-anchor="start" textLength="46.1" lengthAdjust="spacingAndGlyphs">19,200.0</text>
<text x="1741.2" y="511.7" fill="#131722" stroke="#131722" stroke-width="0.2" font-size="12" font-weight="normal" text-anchor="start" textLength="46.1" lengthAdjust="spacingAndGlyphs">18,800.0</text>
<text x="1741.2" y="557.7" fill="#131722" stroke="#131722" stroke-width="0.2" font-size="12" font-weight="normal" text-anchor="start" textLength="46.1" lengthAdjust="spacingAndGlyphs">18,400.0</text>
<text x="1741.2" y="602.7" fill="#131722" stroke="#131722" stroke-width="0.2" font-size="12" font-weight="normal" text-anchor="start" textLength="46.1" lengthAdjust="spacingAndGlyphs">18,000.0</text>
<text x="1741.2" y="648.7" fill="#131722" stroke="#131722" stroke-width="0.2" font-size="12" font-weight="normal" text-anchor="start" textLength="46.1" lengthAdjust="spacingAndGlyphs">17,600.0</text>
<text x="1741.2" y="693.7" fill="#131722" stroke="#131722" stroke-width="0.2" font-size="12" font-weight="normal" text-anchor="start" textLength="46.1" lengthAdjust="spacingAndGlyphs">17,200.0</text>
<text x="1741.2" y="738.7" fill="#131722" stroke="#131722" stroke-width="0.2" font-size="12" font-weight="normal" text-anchor="start" textLength="46.1" lengthAdjust="spacingAndGlyphs">16,800.0</text>
<text x="1741.2" y="784.7" fill="#131722" stroke="#131722" stroke-width="0.2" font-size="12" font-weight="normal" text-anchor="start" textLength="46.1" lengthAdjust="spacingAndGlyphs">16,400.0</text>
<text x="1741.2" y="829.7" fill="#131722" stroke="#131722" stroke-width="0.2" font-size="12" font-weight="normal" text-anchor="start" textLength="46.1" lengthAdjust="spacingAndGlyphs">16,000.0</text>
<text x="1741.2" y="875.7" fill="#131722" stroke="#131722" stroke-width="0.2" font-size="12" font-weight="normal" text-anchor="start" textLength="46.1" lengthAdjust="spacingAndGlyphs">15,600.0</text>
<text x="1741.2" y="920.7" fill="#131722" stroke="#131722" stroke-width="0.2" font-size="12" font-weight="normal" text-anchor="start" textLength="46.1" lengthAdjust="spacingAndGlyphs">15,200.0</text>
<rect x="1733" y="470" width="60" height="17" rx="2" fill="#f23645"/>
<text x="1741.5" y="481.8" fill="#fff" stroke="#fff" stroke-width="0.2" font-size="12" font-weight="bold" text-anchor="start" textLength="45.4" lengthAdjust="spacingAndGlyphs">19,069.7</text>
<rect x="1733" y="554" width="60" height="17" rx="2" fill="#000"/>
<text x="1741.5" y="565.8" fill="#fff" stroke="#fff" stroke-width="0.2" font-size="12" font-weight="bold" text-anchor="start" textLength="45.4" lengthAdjust="spacingAndGlyphs">18,336.0</text>
<rect x="1733" y="682" width="60" height="17" rx="2" fill="#000"/>
<text x="1741.5" y="693.8" fill="#fff" stroke="#fff" stroke-width="0.2" font-size="12" font-weight="bold" text-anchor="start" textLength="45.4" lengthAdjust="spacingAndGlyphs">17,209.2</text>
<text x="13" y="951.8" fill="#131722" stroke="#131722" stroke-width="0.2" font-size="12" font-weight="normal" text-anchor="start" textLength="20" lengthAdjust="spacingAndGlyphs">Mar</text>
<text x="122.5" y="951.8" fill="#131722" stroke="#131722" stroke-width="0.2" font-size="12" font-weight="normal" text-anchor="start" textLength="19" lengthAdjust="spacingAndGlyphs">Apr</text>
<text x="235" y="951.8" fill="#131722" stroke="#131722" stroke-width="0.2" font-size="12" font-weight="normal" text-anchor="start" textLength="21.5" lengthAdjust="spacingAndGlyphs">May</text>
<text x="355.5" y="951.8" fill="#131722" stroke="#131722" stroke-width="0.2" font-size="12" font-weight="normal" text-anchor="start" textLength="18.5" lengthAdjust="spacingAndGlyphs">Jun</text>
<text x="460.5" y="951.8" fill="#131722" stroke="#131722" stroke-width="0.2" font-size="12" font-weight="normal" text-anchor="start" textLength="15.5" lengthAdjust="spacingAndGlyphs">Jul</text>
<text x="577.5" y="951.8" fill="#131722" stroke="#131722" stroke-width="0.2" font-size="12" font-weight="normal" text-anchor="start" textLength="20" lengthAdjust="spacingAndGlyphs">Aug</text>
<text x="691.5" y="951.8" fill="#131722" stroke="#131722" stroke-width="0.2" font-size="12" font-weight="normal" text-anchor="start" textLength="19" lengthAdjust="spacingAndGlyphs">Sep</text>
<text x="800.5" y="951.8" fill="#131722" stroke="#131722" stroke-width="0.2" font-size="12" font-weight="normal" text-anchor="start" textLength="18.5" lengthAdjust="spacingAndGlyphs">Oct</text>
<text x="919" y="951.8" fill="#131722" stroke="#131722" stroke-width="0.2" font-size="12" font-weight="normal" text-anchor="start" textLength="20" lengthAdjust="spacingAndGlyphs">Nov</text>
<text x="1028" y="951.8" fill="#131722" stroke="#131722" stroke-width="0.2" font-size="12" font-weight="normal" text-anchor="start" textLength="19.5" lengthAdjust="spacingAndGlyphs">Dec</text>
<text x="1133" y="951.8" fill="#131722" stroke="#131722" stroke-width="0.2" font-size="12" font-weight="bold" text-anchor="start" textLength="27" lengthAdjust="spacingAndGlyphs">2025</text>
<text x="1250.5" y="951.8" fill="#131722" stroke="#131722" stroke-width="0.2" font-size="12" font-weight="normal" text-anchor="start" textLength="20" lengthAdjust="spacingAndGlyphs">Feb</text>
<text x="1354" y="951.8" fill="#131722" stroke="#131722" stroke-width="0.2" font-size="12" font-weight="normal" text-anchor="start" textLength="20" lengthAdjust="spacingAndGlyphs">Mar</text>
<text x="1463.5" y="951.8" fill="#131722" stroke="#131722" stroke-width="0.2" font-size="12" font-weight="normal" text-anchor="start" textLength="19" lengthAdjust="spacingAndGlyphs">Apr</text>
<text x="1575.5" y="951.8" fill="#131722" stroke="#131722" stroke-width="0.2" font-size="12" font-weight="normal" text-anchor="start" textLength="21.5" lengthAdjust="spacingAndGlyphs">May</text>
<text x="1691.5" y="951.8" fill="#131722" stroke="#131722" stroke-width="0.2" font-size="12" font-weight="normal" text-anchor="start" textLength="18.5" lengthAdjust="spacingAndGlyphs">Jun</text>
<path d="M1470.53,912.19 A9.6,9.6 0 1 0 1476.73,918.65" fill="none" stroke="#9416ac" stroke-width="1.5" stroke-linecap="round"/>
<polygon points="1470.10,916.30 1463.30,921.90 1467.30,921.90 1464.30,926.90 1471.70,921.10 1467.70,921.10" fill="#9416ac" stroke="#9416ac" stroke-width="0.7" stroke-linejoin="round"/>
<circle cx="1474.4" cy="914.5" r="2.5" fill="#f23645"/>
<g fill="#000">
<path d="M10.1,974 H18.1 V983.8 H13.8 V978 H10.1 Z"/>
<circle cx="21" cy="975.8" r="1.9"/>
<path d="M24.9,974 H29.4 L25.9,983.8 H21.2 Z"/>
</g>
<text x="32.9" y="983.8" fill="#000" stroke="#000" stroke-width="0.3" font-size="13.5" font-weight="normal" text-anchor="start" textLength="70.3" lengthAdjust="spacingAndGlyphs">TradingView</text>
</svg>
</body></html>
